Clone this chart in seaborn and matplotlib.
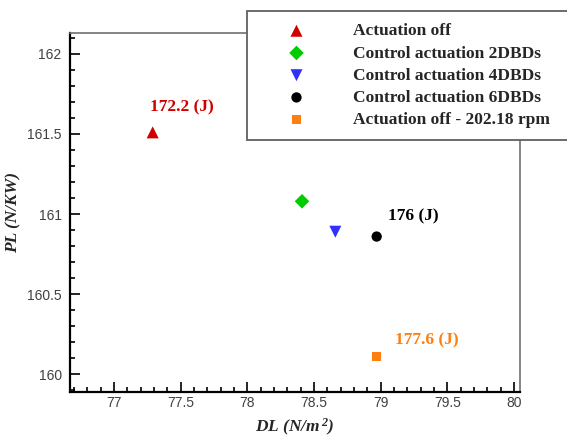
import numpy as np
import pandas as pd
import matplotlib
matplotlib.use("Agg")
import matplotlib.pyplot as plt
from matplotlib.ticker import MultipleLocator, FuncFormatter
import seaborn as sns

# =======================
# Data
# =======================
cases = ["Actuation off", "Control actuation 2DBDs", "Control actuation 4DBDs",
         "Control actuation 6DBDs", "Actuation off - 202.18 rpm"]
dl_values = [77.29, 78.41, 78.66, 78.97, 78.97]
pl_values = [161.51, 161.08, 160.89, 160.86, 160.11]
point_labels = ["172.2 (J)", None, None, "176 (J)", "177.6 (J)"]

# =======================
# Styles
# =======================
colors = ["#D00000", "#00CC00", "#3030FF", "#000000", "#FF7F0E"]
markers = ["^", "D", "v", "o", "s"]
sizes = [75, 55, 75, 55, 45]
label_offsets = [(-3, 25), None, None, (11, 20), (18, 16)]

sns.set_style("white")
plt.rcParams["font.family"] = ["Liberation Serif", "DejaVu Serif"]
plt.rcParams["mathtext.fontset"] = "custom"
plt.rcParams["mathtext.it"] = "Liberation Serif:italic:bold"
plt.rcParams["mathtext.rm"] = "Liberation Serif:italic:bold"
plt.rcParams["mathtext.bf"] = "Liberation Serif:italic:bold"

df = pd.DataFrame({"case": cases, "DL": dl_values, "PL": pl_values})

fig = plt.figure(figsize=(5.67, 4.38), dpi=100)
ax = fig.add_axes([70 / 567, 1 - 392 / 438, 450 / 567, 359 / 438])

for i, row in df.iterrows():
    sns.scatterplot(x=[row["DL"]], y=[row["PL"]], ax=ax, marker=markers[i],
                    color=colors[i], s=sizes[i], edgecolor="none",
                    label=row["case"], zorder=3)

for i, lab in enumerate(point_labels):
    if lab is None:
        continue
    ax.annotate(lab, (dl_values[i], pl_values[i]), xytext=label_offsets[i],
                textcoords="offset pixels", ha="left", va="center",
                color=colors[i], fontsize=12.5, fontweight="bold")

ax.set_xlim(76.67, 80.045)
ax.set_ylim(159.89, 162.13)
ax.xaxis.set_major_locator(MultipleLocator(0.5))
ax.xaxis.set_minor_locator(MultipleLocator(0.1))
ax.yaxis.set_major_locator(MultipleLocator(0.5))
ax.yaxis.set_minor_locator(MultipleLocator(0.1))
ax.xaxis.set_major_formatter(FuncFormatter(lambda v, p: f"{v:g}"))
ax.yaxis.set_major_formatter(FuncFormatter(lambda v, p: f"{v:g}"))

ax.tick_params(which="both", direction="in", top=False, right=False,
               bottom=True, left=True, width=1.2, color="black")
ax.tick_params(which="major", length=7, labelsize=10, labelcolor="#404040")
ax.tick_params(axis="x", which="major", pad=3)
ax.tick_params(axis="y", which="major", pad=6)
ax.tick_params(which="minor", length=3.5)
for t in ax.get_xticklabels() + ax.get_yticklabels():
    t.set_family(["Liberation Sans", "DejaVu Sans"])

for side in ["left", "bottom"]:
    ax.spines[side].set_color("black")
    ax.spines[side].set_linewidth(1.6)
for side in ["top", "right"]:
    ax.spines[side].set_color("#707070")
    ax.spines[side].set_linewidth(1.2)

ax.set_xlabel("DL (N/m$^{\\,2}$)", fontsize=12.5, fontweight="bold", style="italic", labelpad=5)
ax.set_ylabel("PL (N/KW)", fontsize=12.5, fontweight="bold", style="italic", labelpad=4)

# legend box sits partly outside the axes, cut by the right edge of the figure
leg = ax.legend(loc="upper left", bbox_to_anchor=(247 / 567, 1 - 11 / 438 - 0.01, 340 / 567, 0.01),
                bbox_transform=fig.transFigure, mode="expand", borderaxespad=0,
                fancybox=False, framealpha=1, edgecolor="#606060",
                prop={"family": ["Liberation Serif", "DejaVu Serif"], "weight": "bold", "size": 12.5},
                handletextpad=1.1, labelspacing=0.35, borderpad=0.7, handlelength=4.3)
leg.get_frame().set_linewidth(1.3)
leg.set_zorder(5)

fig.savefig("out.png", dpi=100)
plt.close(fig)
